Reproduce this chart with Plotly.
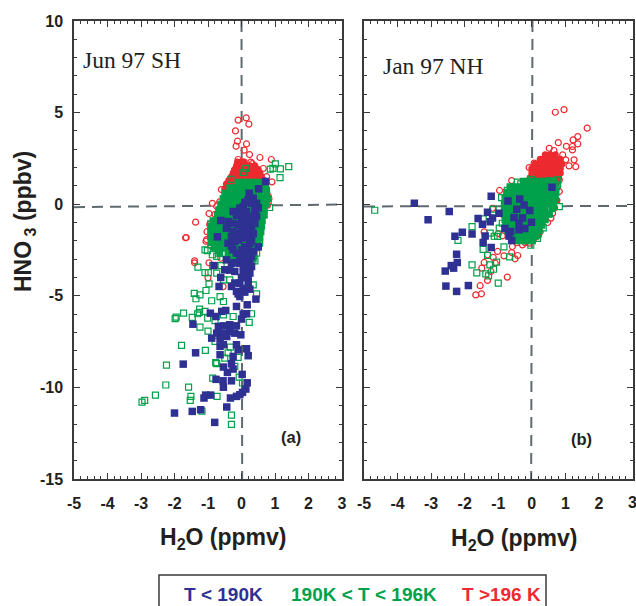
import plotly.graph_objects as go

# ---------- Panel (a) Jun 97 SH : (H2O, HNO3) ----------
a_red_open = [(.14,4.71),(-.10,4.59),(.22,4.37),(-.18,4.0),(-.12,3.44),(.15,3.29),(-.16,3.17),(.08,2.95),(.24,2.71),
 (.55,2.55),(.89,2.44),(-.10,2.44),(.02,2.31),(.32,2.22),(.42,1.95),(.65,1.95),(-.21,1.87),(.91,1.22),(-.6,.80),
 (-.46,.80),(-.87,.05),(-.65,.13),(-.74,-.11),(-.97,-.51),(-.79,-.55),(-1.37,-.98),(-1.65,-1.82),(-1.67,-1.83),
 (-1.04,-1.93),(-1.06,-2.02),(-1.40,-3.09),(-1.40,-3.2),(-.97,-3.2),(-1.0,-4.02),(-.95,-1.1),(-1.03,-1.5),(-.88,-1.6),
 (-.92,-2.25),(-.82,-2.35),(-.7,-2.5),(-.62,-2.95),(-.55,-4.5),(.8,.45),(.82,.3),(.8,.1),(.78,-.05),(.28,2.3),(.75,1.5)]
a_red_core = [(2.3,[-.12,0,.08]),(2.1,[-.15,-.05,.05,.15,.25,.4]),(1.9,[-.2,-.1,0,.1,.2,.3,.4,.5]),
 (1.7,[-.25,-.15,-.05,.05,.15,.25,.35,.45,.55]),(1.5,[-.3,-.2,-.1,0,.1,.2,.3,.4,.5,.6]),
 (1.3,[-.38,-.25,-.12,0,.12,.25,.38,.5,.68]),(1.1,[-.45,-.3,-.15,0,.15,.3,.45,.6,.72]),(.85,[-.5,-.35,-.2,.65,.75])]
a_green_open = [(1.41,2.05),(1.16,1.93),(1.01,2.2),(.86,1.91),(1.15,1.45),(.94,1.96),(.13,1.96),(.05,1.73),(-.32,1.36),
 (.84,-.18),(.56,-1.31),(.54,-2.13),(.45,-2.67),(.40,-3.09),(.35,-2.85),(-1.09,-2.49),(-1.02,-2.53),(-.87,-2.76),
 (-1.30,-3.44),(-1.09,-3.73),(-.99,-3.73),(-.86,-3.35),(-.61,-3.35),(-.97,-4.35),(-1.06,-4.71),(-1.41,-4.87),
 (-1.24,-4.95),(-1.36,-5.16),(-.89,-5.27),(-.64,-5.04),(-.35,-4.13),(.45,-4.89),(.35,-4.4),(-.92,-1.76),(-.92,-1.07),
 (-.74,-2.85),(-.54,-4.13),(-.74,-3.76),(-.54,-5.31),(-1.25,-5.73),(-1.26,-5.91),(-1.73,-5.95),(-1.95,-6.16),
 (-1.98,-6.25),(-1.47,-6.18),(-1.31,-5.98),(-1.09,-5.85),(-1.01,-6.22),(-.79,-6.35),(-1.24,-6.71),(-1.0,-6.93),
 (.30,-5.98),(.23,-6.45),(-.54,-6.04),(-.25,-6.13),(-1.79,-7.71),(-1.08,-7.98),(-.79,-7.49),(-.33,-7.8),(-.77,-8.65),
 (-.74,-8.7),(-.5,-8.4),(-.1,-8.36),(-2.24,-8.78),(-.86,-9.49),(-2.26,-9.87),(-1.58,-9.99),(-.07,-9.44),(.03,-9.76),
 (-2.57,-10.42),(-2.89,-10.71),(-2.97,-10.8),(-1.51,-10.49),(-1.53,-10.71),(-.73,-10.49),(-1.18,-11.3),(-.3,-11.51),
 (-.3,-12.02),(-.4,-8.12),(-.2,-8.85)]
a_green_core = [(1.2,[-.1,.05,.2,.35,.5]),(.9,[-.35,-.2,-.05,.1,.25,.4,.55,.72]),(.6,[-.5,-.35,-.2,-.05,.1,.25,.4,.55,.75]),
 (.3,[-.55,-.4,-.25,-.1,.05,.2,.35,.5,.65,.78]),(0,[-.62,-.47,-.32,-.17,-.02,.13,.28,.43,.58,.73]),
 (-.3,[-.68,-.52,-.36,-.2,-.04,.12,.28,.44,.6,.68]),(-.6,[-.72,-.56,-.4,-.24,-.08,.08,.24,.4,.56,.68]),
 (-.9,[-.85,-.68,-.5,-.34,-.18,-.02,.14,.3,.46,.62]),(-1.2,[-.92,-.75,-.58,-.41,-.24,-.07,.1,.27,.44,.6]),
 (-1.5,[-.92,-.75,-.58,-.41,-.24,-.07,.1,.27,.44,.58]),(-1.8,[-.92,-.75,-.58,-.41,-.24,-.07,.1,.27,.42,.55]),
 (-2.1,[-.9,-.73,-.56,-.39,-.22,-.05,.12,.29,.5]),(-2.4,[-.8,-.6,-.4,-.2,0,.2,.4]),(-2.7,[-.65,-.4,-.2,0,.2,.38]),
 (-3.0,[-.45,-.25,-.05,.15,.35])]
a_blue = [(.72,1.24),(.51,.84),(.23,.6),(.35,.33),(.3,.05),(.4,-.31),(.45,-.67),(-.05,-.22),(-.25,-.4),(.05,-.67),(-.62,-.89),
 (-.4,-.95),(-.25,-1.04),(-.45,-1.31),(.2,-1.04),(.3,-1.31),(-.72,-1.78),(-.25,-1.49),(-.15,-1.58),(-.3,-1.76),(.05,-1.85),
 (.25,-1.76),(-.2,-2.04),(-.4,-2.13),(.1,-2.31),(.5,-2.33),(-.25,-2.49),(.35,-2.58),(-.15,-2.67),(.3,-2.85),(-.45,-3.04),
 (-.3,-3.22),(.25,-3.13),(-.82,-3.35),(-.5,-3.58),(.15,-3.49),(-.2,-3.67),(.25,-3.76),(-.62,-4),(.2,-3.95),(-.05,-4.31),
 (.2,-4.27),(-.67,-4.49),(-.3,-4.49),(.25,-4.64),(-.15,-4.76),(-.05,-5.04),(.43,-5.18),(.05,-.13),(.15,-.4),(.25,-.67),
 (0,-.85),(.1,-1.22),(.15,-1.49),(-.1,-1.95),(.25,-2.13),(0,-2.49),(.1,-2.85),(-.05,-3.22),(.05,-3.76),(0,-4),
 (-.15,-5.58),(.17,-5.49),(-.93,-5.95),(-.76,-6.13),(-.59,-5.85),(-.47,-5.8),(.05,-6),(.15,-5.98),(0,-6.27),(-1.45,-6.55),
 (-.69,-6.67),(-.54,-6.64),(-.35,-6.58),(-.15,-6.64),(-.89,-7.31),(-.74,-7.04),(-.54,-7.04),(-.35,-6.95),(-.2,-7.04),
 (-.02,-7.13),(-.64,-7.36),(-.44,-7.22),(-.64,-7.76),(-.54,-7.67),(-.15,-7.67),(.15,-7.89),(-.1,-7.95),(-1.37,-8.11),
 (-.64,-8.22),(.2,-8.27),(-.25,-8.31),(-1.74,-8.73),(-.3,-8.71),(-.54,-8.89),(-.25,-9),(-.42,-9.18),(.02,-9.29),(-.76,-9.56),
 (-.55,-9.64),(-.3,-9.64),(.17,-9.75),(-.54,-9.99),(.13,-10.09),(.03,-10.27),(-.15,-10.49),(-.33,-10.58),(-.05,-10.4),
 (-.92,-10.42),(-1.07,-10.42),(-1.12,-10.58),(-.44,-11.07),(-1.22,-11.22),(-1.47,-11.31),(-2.0,-11.4),(-.8,-11.91),
 (.1,.1),(.2,.25),(.45,.05),(.5,-.2),(-.15,-.6),(-.05,-.45),(.15,-.85),(.35,-.95),(-.1,-1.1),(0,-1.3),(.4,-1.05),(.2,-1.5),
 (.35,-1.6),(.3,-2.0),(-.05,-1.7),(-.15,-1.9),(-.3,-2.3),(.2,-2.5),(.1,-2.6),(-.05,-2.9),(.15,-3.0),(-.2,-3.2),(.05,-3.4),
 (.3,-3.4),(-.35,-3.6),(.12,-4.0),(.05,-4.6),(-.2,-4.3),(-.1,-4.9),(.1,-4.8)]

# ---------- Panel (b) Jan 97 NH ----------
b_red_open = [(.7,5.02),(.96,5.16),(1.65,4.15),(1.37,3.69),(1.37,3.29),(1.23,3.51),(1.03,3.16),(.79,3.36),(.52,3.05),(.66,2.93),
 (1.21,2.96),(1.21,3.15),(.92,2.69),(1.26,2.42),(1.31,2.05),(1.01,2.42),(1.11,2.09),(.07,2.24),(-.08,2),(-.6,1.29),(-.96,.75),
 (.82,.69),(.72,.24),(.62,-.49),(.57,-.76),(.47,-1),(-1.42,-1.51),(-1.17,-.22),(-.88,-1.73),(-.28,-2.22),(-.08,-2.13),
 (-.58,-2.31),(-1.02,-2.58),(-1.32,-2.76),(-.83,-2.82),(-.6,-2.64),(-.42,-2.8),(-.5,-2.98),(-1.42,-3.18),(-1.49,-3.49),
 (-1.09,-3.22),(-.73,-3.98),(-1.32,-4.16),(-1.54,-4.45),(-1.67,-4.95),(-1.5,-4.89),(-1.22,-3.67),(.82,1.33),(.75,.9),
 (-.45,-2.1),(-.2,-2.1),(0,-2.0),(.1,-1.8),(.25,-1.5),(-1.0,-1.6),(-1.15,-2.9)]
b_red_core = [(2.7,[.4,.55,.7]),(2.45,[.25,.35,.45,.55,.65,.75,.85]),(2.2,[.1,.2,.3,.4,.5,.6,.7,.8,.9]),
 (1.95,[0,.1,.2,.3,.4,.5,.6,.7,.85]),(1.7,[0,.1,.2,.3,.4,.5,.6,.7,.85]),(1.45,[-.05,.1,.2,.3,.4,.5,.6,.7,.8]),
 (1.2,[-.1,.05,.2,.35,.5,.65,.75]),(-1.9,[-.5,-.35,-.2,-.05,.05]),(-1.7,[-.6,.1,.2]),(.2,[.68,.75]),(-.2,[.6,.68])]
b_green_open = [(-4.68,-.33),(-1.78,-1.22),(-2.2,-1.98),(-1.78,-3.31),(-1.64,-3.75),(-1,-4.31),(-1.45,-.8),(-1.24,-1.58),
 (-1.12,-1.75),(-.97,-1.31),(-.9,.36),(-.73,.75),(-.43,1.2),(-.33,1.11),(-.02,1.36),(-.03,1.15),(.52,1.27),(.77,1.33),(.77,1.05),
 (.82,-.13),(.52,-.53),(.34,-1.29),(.17,-1.87),(-.03,-2.24),(-.83,-2.33),(-1.45,-2.47),(-1.32,-2.8),(-.66,-2.87),(-1.05,-3.16),
 (-1.25,-3.31),(-1.14,-3.55),(-1.37,-3.8),(-1.29,-3.91),(-.88,-1.04),(-1.15,-.27),(-1.02,-1.76)]
b_green_core = [(1.25,[-.25,-.1,.05,.2,.35,.5,.65]),(.95,[-.65,-.5,-.35,-.2,-.05,.1,.25,.4,.55,.7]),
 (.65,[-.75,-.6,-.45,-.3,-.15,0,.15,.3,.45,.6,.72]),(.35,[-.8,-.65,-.5,-.35,-.2,-.05,.1,.25,.4,.55,.7]),
 (.05,[-.82,-.67,-.52,-.37,-.22,-.07,.08,.23,.38,.53,.65]),(-.25,[-.82,-.67,-.52,-.37,-.22,-.07,.08,.23,.38,.6]),
 (-.55,[-.82,-.67,-.52,-.37,-.22,-.07,.08,.23,.38,.5]),(-.85,[-.8,-.65,-.5,-.35,-.2,-.05,.1,.25,.4]),
 (-1.15,[-.78,-.63,-.48,-.33,-.18,-.03,.12,.3]),(-1.45,[-.72,-.57,-.42,-.27,-.12,.03,.22]),
 (-1.75,[-.65,-.5,-.35,-.2,-.05,.12]),(-2.0,[-.45,-.3,-.15,.02])]
b_blue = [(-3.5,.05),(-2.46,-.4),(-3.09,-.85),(-1.21,.44),(-1.32,-.44),(-.98,-.49),(-1.6,-.78),(-1.17,-.76),(-1.24,-.96),(-1.47,-1.09),
 (-2.07,-1.53),(-2.29,-1.75),(-1.78,-1.62),(-1.39,-1.73),(-1.45,-2.09),(-1.21,-2.36),(-2.24,-2.73),(-2.22,-3.18),(-2.4,-3.35),
 (-2.33,-3.49),(-2.58,-3.65),(-2.56,-4.47),(-1.89,-4.44),(-2.24,-4.76),(.6,.93),(-.71,.18),(-.36,.29),(-.23,-.04),(-.06,-.35),
 (-.45,-.27),(-.53,-.73),(-.28,-.76),(-.01,-.98),(-.38,-1.04),(-.8,-1.33),(-.38,-1.4),(-.21,-1.33),(-.63,-1.49),(-.68,-1.73),(-.6,-1.98)]

x_ticks = [-5, -4, -3, -2, -1, 0, 1, 2, 3]
x_labels = ["-5", "-4", "-3", "-2", "-1", "0", "1", "2", "3"]
x_minor = [v / 5 for v in range(-25, 16)]
y_ticks = [10, 5, 0, -5, -10, -15]
y_labels = ["10", "5", "0", "-5", "-10", "-15"]
y_minor = list(range(-15, 11))
a_hline = ([-5, 3], [-0.16, -0.02])
a_vline = ([0, 0.02], [10, -15])
b_hline = ([-5, 3], [-0.12, -0.1])
b_vline = ([0.02, -0.02], [10, -15])

RED, GREEN, BLUE = "#ec2a2f", "#00a14b", "#2e3192"
DASH, AXC, TXT = "#5f6a6e", "#3a3a3a", "#231f20"


def rows(r):
    return [(x, y) for y, xs in r for x in xs]


def add_points(fig, pts, color, symbol, size, lw, xa, ya):
    fig.add_trace(go.Scatter(
        x=[p[0] for p in pts], y=[p[1] for p in pts], mode="markers", xaxis=xa, yaxis=ya, showlegend=False,
        marker=dict(symbol=symbol, size=size, color=color, line=dict(color=color, width=lw))))


fig = go.Figure()
panels = [("x", "y", a_hline, a_vline, a_red_core, a_red_open, a_green_core, a_green_open, a_blue),
          ("x2", "y2", b_hline, b_vline, b_red_core, b_red_open, b_green_core, b_green_open, b_blue)]
for xa, ya, h, v, rc, ro, gc, go_, bl in panels:
    for line in (h, v):
        fig.add_trace(go.Scatter(x=line[0], y=line[1], mode="lines", xaxis=xa, yaxis=ya, showlegend=False,
                                 line=dict(color=DASH, width=2, dash="11px,7px")))
    add_points(fig, rows(rc), RED, "circle", 7, 0, xa, ya)
    add_points(fig, ro, RED, "circle-open", 6, 1.2, xa, ya)
    add_points(fig, rows(gc), GREEN, "square", 7, 0, xa, ya)
    add_points(fig, go_, GREEN, "square-open", 6, 1.2, xa, ya)
    add_points(fig, bl, BLUE, "square", 7.5, 0, xa, ya)

W, H = 636, 606
def xaxis(l, r, anchor):
    return dict(domain=[l / W, r / W], range=[-5, 3], anchor=anchor, tickmode="array", tickvals=x_ticks, ticktext=x_labels,
                ticks="inside", ticklen=6, tickwidth=1.2, tickcolor=AXC, showline=True, linecolor=AXC, linewidth=1.5,
                mirror="allticks", showgrid=False, zeroline=False, ticklabelstandoff=9, automargin=False,
                tickfont=dict(family="Liberation Sans", size=16, color=TXT, weight=700),
                minor=dict(tickmode="array", tickvals=x_minor, ticks="inside", ticklen=3, tickwidth=1, tickcolor=AXC, showgrid=False))
def yaxis(anchor, show):
    return dict(domain=[(H - 479) / H, (H - 21) / H], range=[-15, 10], anchor=anchor, tickmode="array", tickvals=y_ticks,
                ticktext=y_labels, showticklabels=show, ticks="inside", ticklen=6, tickwidth=1.2, tickcolor=AXC, showline=True,
                linecolor=AXC, linewidth=1.5, mirror="allticks", showgrid=False, zeroline=False, ticklabelstandoff=6,
                automargin=False, tickfont=dict(family="Liberation Sans", size=16, color=TXT, weight=700),
                minor=dict(tickmode="array", tickvals=y_minor, ticks="inside", ticklen=3, tickwidth=1, tickcolor=AXC, showgrid=False))


def note(text, x, y, size, color=TXT, family="Liberation Sans", angle=0):
    return dict(text=text, x=x / W, y=1 - y / H, xref="paper", yref="paper", xanchor="center", yanchor="middle",
                showarrow=False, textangle=angle, font=dict(family=family, size=size, color=color))


annotations = [
    note("Jun 97 SH", 132, 60, 23.5, family="Liberation Serif"),
    note("Jan 97 NH", 433, 66, 23.5, family="Liberation Serif"),
    note("<b>(a)</b>", 291, 437, 16.5),
    note("<b>(b)</b>", 581, 439, 16.5),
    note("<b>H<sub>2</sub>O (ppmv)</b>", 223, 538, 23),
    note("<b>H<sub>2</sub>O (ppmv)</b>", 514, 539, 23),
    note("<b>HNO<sub> 3</sub> (ppbv)</b>", 24, 222, 23, angle=-90),
    note("<b>T &lt; 190K</b>", 224, 594, 19, BLUE),
    note("<b>190K &lt; T &lt; 196K</b>", 364, 594, 19, GREEN),
    note("<b>T &gt;196 K</b>", 501, 594, 19, RED),
    note("<b>3</b>", 632, 502, 16),
]

fig.update_layout(
    width=W, height=H, margin=dict(l=0, r=0, t=0, b=0), paper_bgcolor="white", plot_bgcolor="white", showlegend=False,
    xaxis=xaxis(74, 342, "y"), yaxis=yaxis("x", True),
    xaxis2=xaxis(364, 632.5, "y2"), yaxis2=yaxis("x2", False),
    annotations=annotations,
    shapes=[dict(type="rect", xref="paper", yref="paper", x0=159 / W, x1=546 / W, y0=-0.05, y1=1 - 575 / H,
                 line=dict(color=AXC, width=1.5))],
)
fig.write_html("out.html", config={"displayModeBar": False},
               post_script="document.body.style.margin='0';document.documentElement.style.overflow='hidden';")
